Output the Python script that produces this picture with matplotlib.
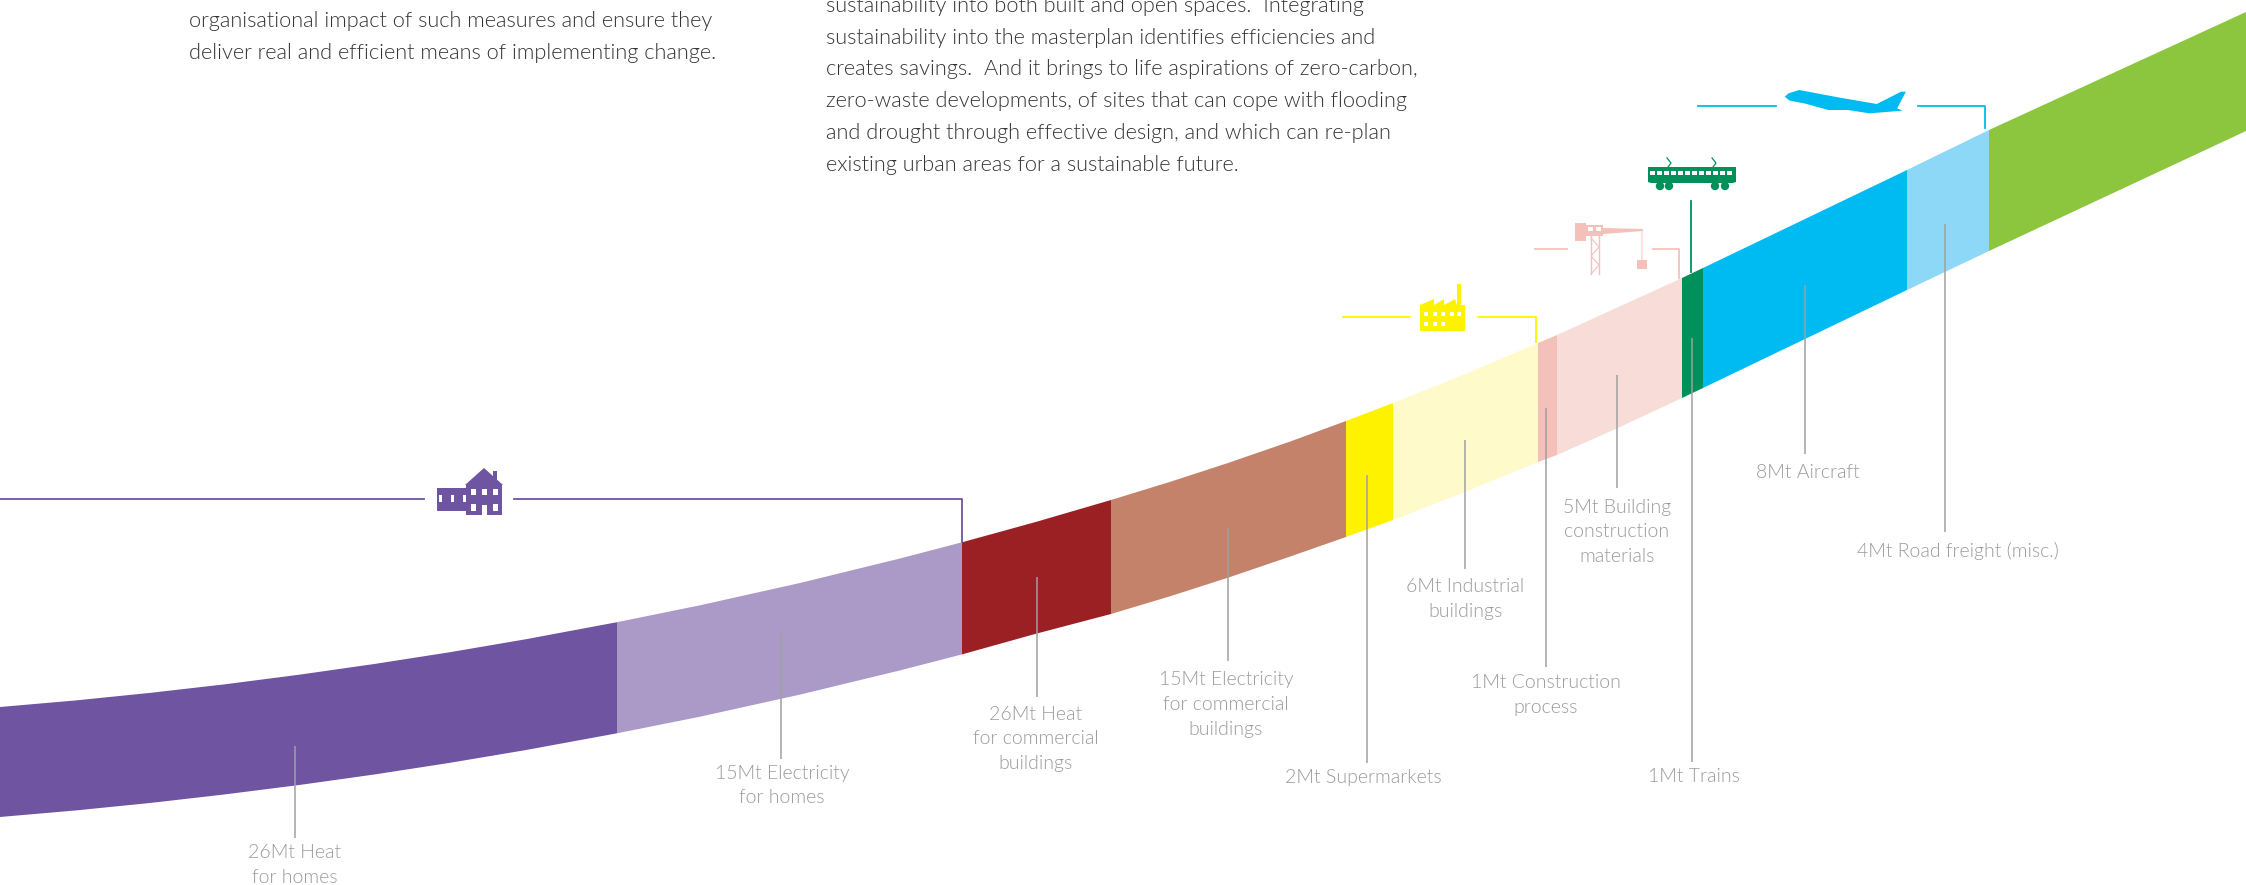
import numpy as np
import matplotlib
matplotlib.use("Agg")
import matplotlib.pyplot as plt
from matplotlib.patches import Polygon, Circle, Rectangle

# 画面上读出的数据 (像素坐标, y 向下)
edge_x = [0, 75, 150, 225, 300, 375, 450, 525, 617, 700, 800, 900, 962, 1035, 1111, 1170, 1228, 1290, 1346, 1393, 1465, 1538, 1557, 1620, 1682, 1703, 1907, 1989, 2246]
edge_top = [707, 700.5, 692.9, 684.3, 674.6, 663.9, 652.2, 639.4, 622.2, 605.3, 583, 558.5, 542.3, 522.2, 500, 481.9, 463, 441.6, 421, 403, 374.2, 343, 335, 306.3, 278, 268, 170, 130, 12]
edge_bot = [817, 810.5, 803, 794.4, 784.9, 774.4, 762.8, 750.2, 733.3, 716.7, 694.6, 670.4, 654.4, 634, 614, 596.3, 577.7, 556.6, 537, 520, 492, 462, 455, 427, 398, 388, 290, 251, 131]

seg_start = [0, 617, 962, 1111, 1346, 1393, 1538, 1557, 1682, 1703, 1907, 1989]
seg_end = [617, 962, 1111, 1346, 1393, 1538, 1557, 1682, 1703, 1907, 1989, 2246]
seg_colors = ["#6f54a1", "#ab99c8", "#9b2024", "#c4826b", "#fff200", "#fffaca",
              "#f4c1ba", "#f8dcd7", "#00915a", "#00bbf2", "#8dd7f7", "#8cc63f"]

label_text = ["26Mt Heat\nfor homes", "15Mt Electricity\nfor homes", "26Mt Heat\nfor commercial\nbuildings",
              "15Mt Electricity\nfor commercial\nbuildings", "2Mt Supermarkets", "6Mt Industrial\nbuildings",
              "1Mt Construction\nprocess", "5Mt Building\nconstruction\nmaterials", "1Mt Trains",
              "8Mt Aircraft", "4Mt Road freight (misc.)"]
label_x = [295, 782, 1036, 1226, 1363, 1465, 1546, 1617, 1694, 1808, 1958]
label_y = [853, 773, 714, 680, 778, 587, 683, 507, 777, 472, 551]
leader_x = [295, 781, 1037, 1228, 1367, 1465, 1546, 1617, 1692, 1805, 1945]
leader_y0 = [746, 633, 577, 528, 475, 440, 408, 375, 338, 285, 224]
leader_y1 = [838, 759, 697, 661, 763, 569, 667, 488, 762, 454, 532]

left_para = ["organisational impact of such measures and ensure they",
             "deliver real and efficient means of implementing change."]
left_para_y = [21, 53]
right_para = ["sustainability into both built and open spaces.  Integrating",
              "sustainability into the masterplan identifies efficiencies and",
              "creates savings.  And it brings to life aspirations of zero-carbon,",
              "zero-waste developments, of sites that can cope with flooding",
              "and drought through effective design, and which can re-plan",
              "existing urban areas for a sustainable future."]
right_para_y = [6, 38, 69, 101, 133, 165]

plt.rcParams["font.family"] = ["Lato", "DejaVu Sans"]

fig = plt.figure(figsize=(22.46, 8.85), dpi=100)
ax = fig.add_axes([0, 0, 1, 1])
ax.set_xlim(0, 2246)
ax.set_ylim(885, 0)
ax.axis("off")

PURPLE, YELLOW, PINK, GREEN, BLUE = "#6f54a1", "#fff200", "#f4c1ba", "#00915a", "#00bbf2"


def shape(pts, color, z=3):
    ax.add_patch(Polygon(pts, closed=True, facecolor=color, edgecolor="none", zorder=z))


def box(x, y, w, h, color, z=3):
    ax.add_patch(Rectangle((x, y), w, h, facecolor=color, edgecolor="none", zorder=z))


# 色带
edge_x = np.array(edge_x)
for x0, x1, c in zip(seg_start, seg_end, seg_colors):
    inner = edge_x[(edge_x > x0) & (edge_x < x1)]
    xs = np.concatenate([[x0], inner, [x1]])
    top = np.interp(xs, edge_x, edge_top)
    bot = np.interp(xs, edge_x, edge_bot)
    ax.fill_between(xs, top, bot, facecolor=c, edgecolor="none", zorder=1)

# 灰色引线和标签
for x, y0, y1 in zip(leader_x, leader_y0, leader_y1):
    ax.plot([x, x], [y0, y1], color="#a0a0a0", lw=1.1, zorder=2, solid_capstyle="butt")
for t, x, y in zip(label_text, label_x, label_y):
    for i, line in enumerate(t.split("\n")):
        ax.text(x, y + i * 24.5, line, ha="center", va="center", fontsize=14, fontweight=300, color="#9a9a9a")

# 正文
for t, y in zip(left_para, left_para_y):
    ax.text(189, y, t, ha="left", va="center", fontsize=15.65, fontweight=300, color="#333333")
for t, y in zip(right_para, right_para_y):
    ax.text(826, y, t, ha="left", va="center", fontsize=15.65, fontweight=300, color="#333333")

# 彩色连接线
lw = 1.3
ax.plot([0, 424], [499, 499], color=PURPLE, lw=lw)
ax.plot([514, 962, 962], [499, 499, 542], color=PURPLE, lw=lw)
ax.plot([1343, 1410], [317, 317], color=YELLOW, lw=lw)
ax.plot([1478, 1536, 1536], [317, 317, 342], color=YELLOW, lw=lw)
ax.plot([1535, 1567], [249, 249], color=PINK, lw=lw)
ax.plot([1653, 1679, 1679], [249, 249, 278], color=PINK, lw=lw)
ax.plot([1691, 1691], [201, 272], color=GREEN, lw=lw)
ax.plot([1698, 1776], [106, 106], color=BLUE, lw=lw)
ax.plot([1918, 1985, 1985], [106, 106, 128], color=BLUE, lw=lw)

# 房子
box(437, 488, 29, 23, PURPLE)
box(466, 484, 36, 31, PURPLE)
shape([(465, 485), (484, 468), (503, 485)], PURPLE)
box(493, 471, 4, 10, PURPLE)
for wx in (439, 451, 463):
    box(wx, 495, 3, 7, "white", 4)
for wx in (471, 482, 493):
    box(wx, 489, 5, 6, "white", 4)
box(471, 504, 5, 7, "white", 4)
box(482, 505, 5, 10, "white", 4)
box(493, 504, 5, 7, "white", 4)

# 工厂
shape([(1420, 331), (1420, 305), (1434, 299), (1434, 305), (1444, 299), (1444, 305), (1455, 299),
       (1457, 305), (1457, 284), (1461, 284), (1461, 305), (1465, 305), (1465, 331)], YELLOW)
for wx in (1424, 1433, 1441, 1450, 1457):
    box(wx, 312, 4, 4, "white", 4)
for wx in (1424, 1433, 1441):
    box(wx, 322, 4, 4, "white", 4)

# 起重机
box(1575, 223, 11, 18, PINK)
box(1586, 225, 17, 11, PINK)
box(1588, 227, 5, 4, "white", 4)
box(1596, 227, 5, 4, "white", 4)
ax.plot([1591, 1591], [236, 274], color=PINK, lw=1)
ax.plot([1599, 1599], [236, 274], color=PINK, lw=1)
ax.plot([1591, 1599, 1591, 1599, 1591], [238, 247, 256, 265, 274], color=PINK, lw=0.8)
shape([(1603, 228), (1643, 229), (1643, 231), (1603, 234)], PINK)
ax.plot([1642, 1642], [230, 260], color="#f8dcd7", lw=1.2)
box(1637, 260, 10, 9, PINK)

# 电车
shape([(1648, 167), (1736, 167), (1736, 182), (1733, 183), (1651, 183), (1648, 182)], GREEN)
for wx in np.linspace(1650, 1727, 12):
    box(wx, 171, 5, 4, "white", 4)
for wx in (1660, 1669, 1715, 1725):
    ax.add_patch(Circle((wx, 186), 4.2, facecolor=GREEN, edgecolor="none", zorder=3))
for wx in (1667, 1712):
    ax.plot([wx, wx + 4, wx + 1], [158, 163, 167], color=GREEN, lw=0.9)

# 飞机
plane = [(1000, 110), (1008, 100), (1030, 90), (1110, 112), (1190, 132), (1240, 95), (1250, 95), (1232, 145),
         (1243, 152), (1175, 160), (1130, 150), (1090, 150), (1040, 130), (1010, 122)]
shape([(1300 + px / 2.063, 60 + py / 3) for px, py in plane], BLUE)

fig.savefig("out.png", dpi=100)
